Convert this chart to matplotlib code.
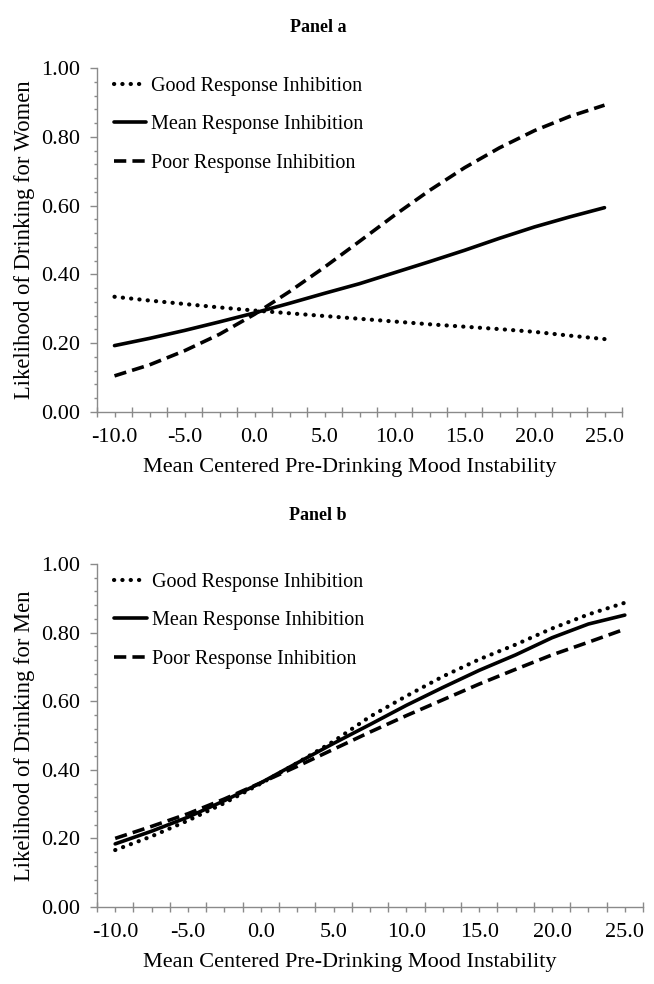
import matplotlib.pyplot as plt
from matplotlib.ticker import FixedLocator, NullFormatter

plt.rcParams['font.family'] = ['Liberation Serif', 'DejaVu Serif']

# mood instability (mean centred), one value per category
x_values = [-10.0, -7.5, -5.0, -2.5, 0.0, 2.5, 5.0, 7.5, 10.0, 12.5, 15.0, 17.5, 20.0, 22.5, 25.0]
x_tick_labels = ["-10.0", "-5.0", "0.0", "5.0", "10.0", "15.0", "20.0", "25.0"]
y_tick_labels = ["0.00", "0.20", "0.40", "0.60", "0.80", "1.00"]
series_labels = ["Good Response Inhibition", "Mean Response Inhibition", "Poor Response Inhibition"]

# Panel a - women
women_good = [0.335, 0.324, 0.314, 0.304, 0.295, 0.287, 0.279, 0.271, 0.263, 0.255, 0.248, 0.241, 0.233, 0.222, 0.212]
women_mean = [0.193, 0.214, 0.237, 0.262, 0.288, 0.316, 0.345, 0.373, 0.405, 0.437, 0.470, 0.505, 0.538, 0.567, 0.594]
women_poor = [0.105, 0.137, 0.178, 0.226, 0.284, 0.350, 0.421, 0.496, 0.572, 0.644, 0.710, 0.768, 0.818, 0.859, 0.892]

# Panel b - men
men_good = [0.166, 0.206, 0.252, 0.303, 0.360, 0.420, 0.483, 0.555, 0.615, 0.672, 0.722, 0.765, 0.812, 0.853, 0.887]
men_mean = [0.184, 0.221, 0.262, 0.310, 0.362, 0.420, 0.477, 0.532, 0.588, 0.640, 0.690, 0.735, 0.785, 0.825, 0.851]
men_poor = [0.200, 0.235, 0.272, 0.315, 0.362, 0.410, 0.460, 0.510, 0.558, 0.604, 0.650, 0.693, 0.735, 0.772, 0.810]

W, H = 654, 984
AXIS_GREY = '#8a8a8a'
FS = 16
LEGEND_FS = 14.5


def draw_panel(ax, good, mean, poor, ylabel, xlabel_x):
    """Draw one Excel-style panel: three logistic curves on a category-like axis."""
    ax.plot(x_values, good, color='black', lw=3.0, linestyle=(0, (0.05, 1.95)),
            dash_capstyle='round', label=series_labels[0])
    ax.plot(x_values, mean, color='black', lw=2.6, solid_capstyle='round', label=series_labels[1])
    ax.plot(x_values, poor, color='black', lw=2.6, linestyle=(0, (3.4, 1.7)), label=series_labels[2])

    ax.set_xlim(-11.25, 26.25)
    ax.set_ylim(0, 1)

    for side in ('top', 'right'):
        ax.spines[side].set_visible(False)
    for side in ('left', 'bottom'):
        ax.spines[side].set_color(AXIS_GREY)
        ax.spines[side].set_linewidth(1.0)

    # tick marks sit on category boundaries, labels on category centres
    major_x = [-11.25 + 2.5 * i for i in range(16)]
    ax.xaxis.set_major_locator(FixedLocator(major_x))
    ax.xaxis.set_minor_locator(FixedLocator(x_values))
    ax.xaxis.set_major_formatter(NullFormatter())
    ax.tick_params(axis='x', which='major', direction='inout', length=7, width=1, color=AXIS_GREY)
    ax.tick_params(axis='x', which='minor', direction='out', length=3.5, width=1, color=AXIS_GREY)

    sec = ax.secondary_xaxis('bottom')
    sec.set_xticks([-10, -5, 0, 5, 10, 15, 20, 25], x_tick_labels)
    sec.tick_params(length=0, pad=11.5, labelsize=FS)
    sec.spines['bottom'].set_visible(False)
    sec.set_xlabel('Mean Centered Pre-Drinking Mood Instability', fontsize=FS, labelpad=8)
    sec.xaxis.label.set_x(xlabel_x)

    ax.set_yticks([0, 0.2, 0.4, 0.6, 0.8, 1.0], y_tick_labels)
    ax.set_yticks([i * 0.04 for i in range(26)], minor=True)
    ax.tick_params(axis='y', which='major', direction='out', length=5, width=1,
                   color=AXIS_GREY, labelsize=FS, pad=7)
    ax.tick_params(axis='y', which='minor', direction='out', length=2.5, width=1, color=AXIS_GREY)
    ax.set_ylabel(ylabel, fontsize=16.3, labelpad=4.5)

    ax.legend(loc='upper left', bbox_to_anchor=(0.017, 0.997), frameon=False, fontsize=LEGEND_FS,
              handlelength=1.6, handletextpad=0.25, labelspacing=0.95, borderaxespad=0.0)


fig = plt.figure(figsize=(W / 100, H / 100), dpi=100)

ax_a = fig.add_axes([97 / W, (H - 412) / H, (622 - 97) / W, 344 / H])
draw_panel(ax_a, women_good, women_mean, women_poor, 'Likelihood of Drinking for Women', 0.482)
fig.text(318 / W, 1 - 28 / H, 'Panel a', ha='center', va='center', fontsize=13, fontweight='bold')

ax_b = fig.add_axes([97 / W, (H - 907) / H, (643 - 97) / W, 343 / H])
draw_panel(ax_b, men_good, men_mean, men_poor, 'Likelihood of Drinking for Men', 0.463)
fig.text(318 / W, 1 - 515 / H, 'Panel b', ha='center', va='center', fontsize=13, fontweight='bold')

fig.savefig('out.png', dpi=100)
